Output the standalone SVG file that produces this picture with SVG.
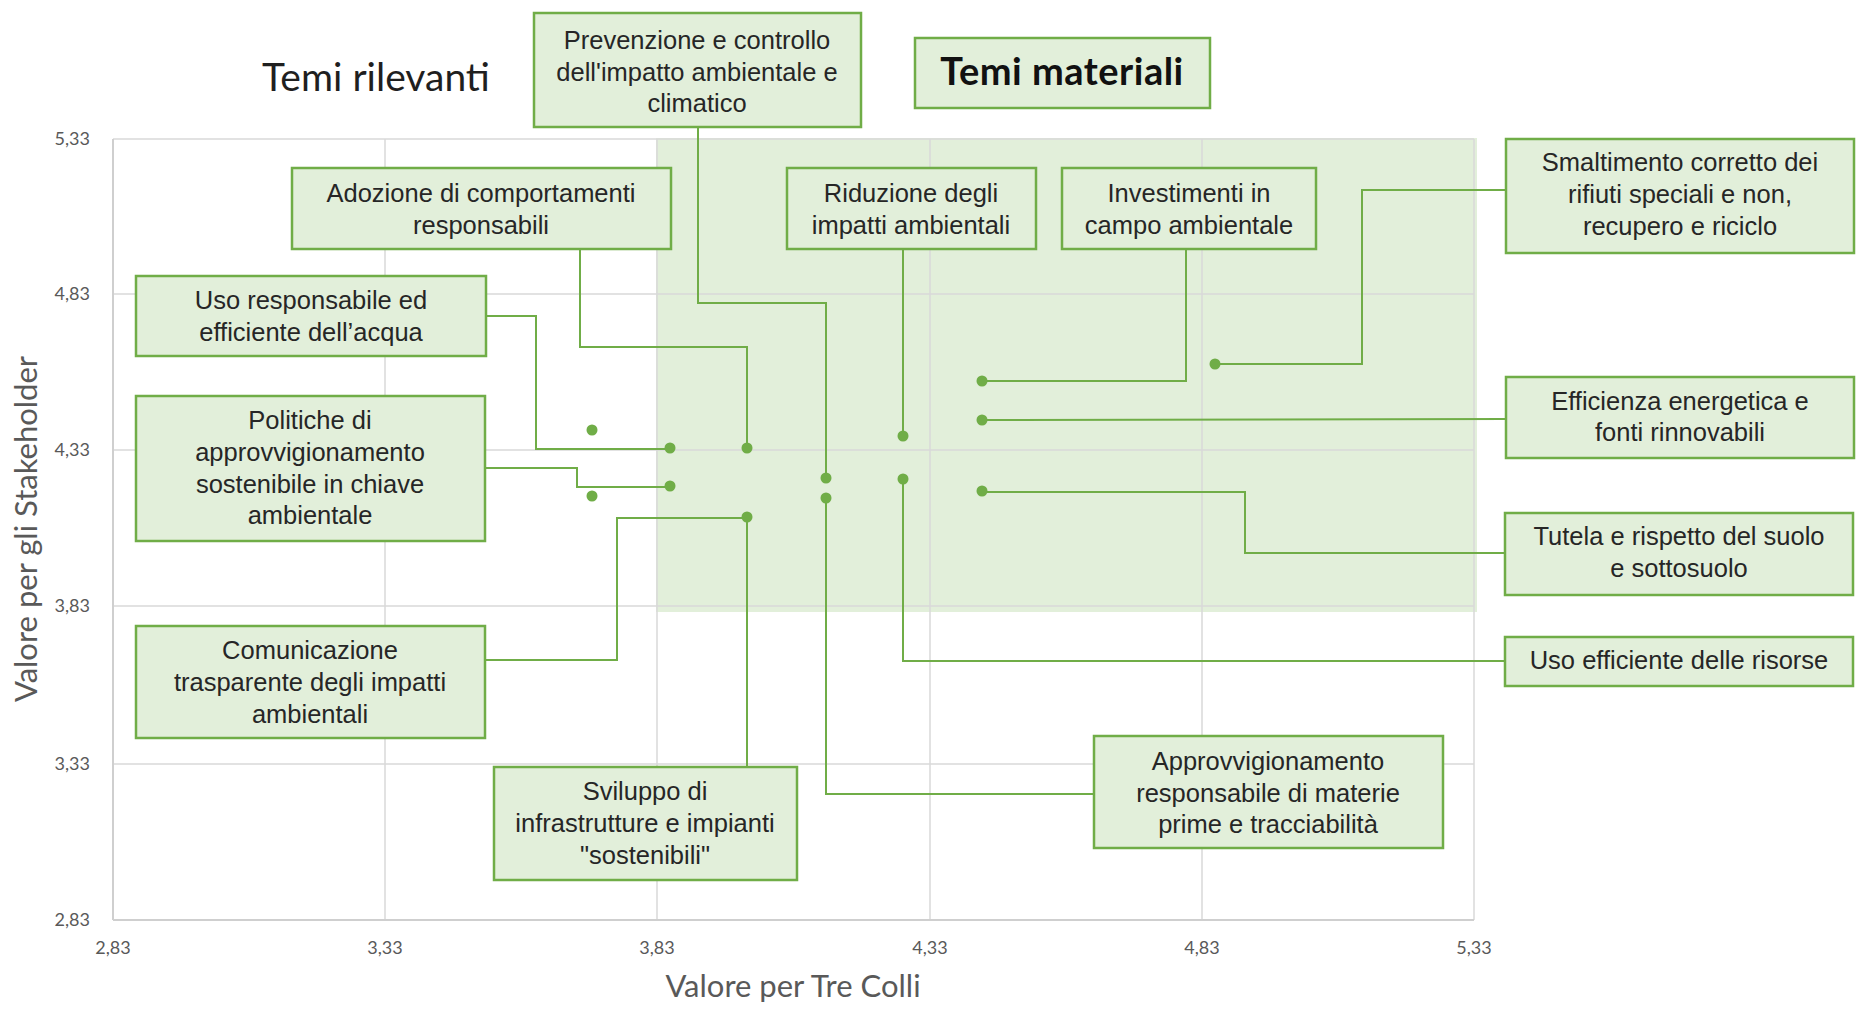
<svg xmlns="http://www.w3.org/2000/svg" width="1859" height="1011" viewBox="0 0 1859 1011">
<defs>
<style>
.grid{stroke:#d9d9d9;stroke-width:1.5;fill:none}
.axis{stroke:#cfcfcf;stroke-width:2;fill:none}
.tick{font-family:"Lato","Liberation Sans",sans-serif;font-size:18px;fill:#595959}
.tx{text-anchor:middle}
.ty{text-anchor:end}
.atitle{font-family:"Lato","Open Sans",sans-serif;font-size:31px;fill:#595959;text-anchor:middle}
.box{fill:#e2efda;stroke:#70ad47;stroke-width:2.5}
.lbl{font-family:"Liberation Sans",Arial,sans-serif;font-size:25.5px;fill:#262626;text-anchor:middle}
.conn{stroke:#70ad47;stroke-width:2;fill:none}
.dot{fill:#70ad47}
</style>
</defs>
<rect width="1859" height="1011" fill="#ffffff"/>

<g id="material-zone">
<rect x="656" y="138" width="821" height="474" fill="#e2efda"/>
</g>

<g id="chart-grid">
<line class="grid" x1="113" y1="139" x2="1474" y2="139"/>
<line class="grid" x1="113" y1="294" x2="1474" y2="294"/>
<line class="grid" x1="113" y1="450" x2="1474" y2="450"/>
<line class="grid" x1="113" y1="606" x2="1474" y2="606"/>
<line class="grid" x1="113" y1="764" x2="1474" y2="764"/>
<line class="grid" x1="385" y1="139" x2="385" y2="920"/>
<line class="grid" x1="657" y1="139" x2="657" y2="920"/>
<line class="grid" x1="930" y1="139" x2="930" y2="920"/>
<line class="grid" x1="1202" y1="139" x2="1202" y2="920"/>
<line class="grid" x1="1474" y1="139" x2="1474" y2="920"/>
<line class="axis" x1="113" y1="139" x2="113" y2="920"/>
<line class="axis" x1="113" y1="920" x2="1474" y2="920"/>
</g>

<g id="ticks">
<text class="tick ty" x="90" y="145">5,33</text>
<text class="tick ty" x="90" y="300">4,83</text>
<text class="tick ty" x="90" y="456">4,33</text>
<text class="tick ty" x="90" y="612">3,83</text>
<text class="tick ty" x="90" y="770">3,33</text>
<text class="tick ty" x="90" y="926">2,83</text>
<text class="tick tx" x="113" y="954">2,83</text>
<text class="tick tx" x="385" y="954">3,33</text>
<text class="tick tx" x="657" y="954">3,83</text>
<text class="tick tx" x="930" y="954">4,33</text>
<text class="tick tx" x="1202" y="954">4,83</text>
<text class="tick tx" x="1474" y="954">5,33</text>
</g>

<g id="axis-titles">
<text class="atitle" x="793" y="997">Valore per Tre Colli</text>
<text class="atitle" transform="translate(37,529) rotate(-90)" x="0" y="0">Valore per gli Stakeholder</text>
</g>

<g id="title-rilevanti">
<text x="376" y="91" font-family="Lato, 'Open Sans', sans-serif" font-size="39" fill="#1f1f1f" text-anchor="middle">Temi rilevanti</text>
</g>
<g id="title-materiali">
<rect class="box" x="915" y="38" width="295" height="70"/>
<text x="1062" y="85" font-family="Lato, 'Open Sans', sans-serif" font-size="38" font-weight="bold" fill="#111111" text-anchor="middle" letter-spacing="0.5">Temi materiali</text>
</g>

<g id="connectors">
<polyline class="conn" points="486,316 536,316 536,449 670,449"/>
<polyline class="conn" points="580,249 580,347 747,347 747,449"/>
<polyline class="conn" points="698,127 698,303 826,303 826,478"/>
<polyline class="conn" points="903,249 903,436"/>
<polyline class="conn" points="1186,249 1186,381 982,381"/>
<polyline class="conn" points="1506,190 1362,190 1362,364 1215,364"/>
<polyline class="conn" points="1506,419 982,420"/>
<polyline class="conn" points="982,492 1245,492 1245,553 1505,553"/>
<polyline class="conn" points="903,479 903,661 1505,661"/>
<polyline class="conn" points="826,498 826,794 1094,794"/>
<polyline class="conn" points="485,468 577,468 577,487 670,487"/>
<polyline class="conn" points="485,660 617,660 617,518 747,518"/>
<polyline class="conn" points="747,767 747,517"/>
</g>

<g id="points">
<circle class="dot" cx="592" cy="430" r="5.5"/>
<circle class="dot" cx="592" cy="496" r="5.5"/>
<circle class="dot" cx="670" cy="448" r="5.5"/>
<circle class="dot" cx="670" cy="486" r="5.5"/>
<circle class="dot" cx="747" cy="448" r="5.5"/>
<circle class="dot" cx="747" cy="517" r="5.5"/>
<circle class="dot" cx="826" cy="478" r="5.5"/>
<circle class="dot" cx="826" cy="498" r="5.5"/>
<circle class="dot" cx="903" cy="436" r="5.5"/>
<circle class="dot" cx="903" cy="479" r="5.5"/>
<circle class="dot" cx="982" cy="381" r="5.5"/>
<circle class="dot" cx="982" cy="420" r="5.5"/>
<circle class="dot" cx="982" cy="491" r="5.5"/>
<circle class="dot" cx="1215" cy="364" r="5.5"/>
</g>

<g id="n-prevenzione">
<rect class="box" x="534" y="13" width="327" height="114"/>
<text class="lbl" x="697" y="49">Prevenzione e controllo</text>
<text class="lbl" x="697" y="81">dell'impatto ambientale e</text>
<text class="lbl" x="697" y="112">climatico</text>
</g>
<g id="n-adozione">
<rect class="box" x="292" y="168" width="379" height="81"/>
<text class="lbl" x="481" y="202">Adozione di comportamenti</text>
<text class="lbl" x="481" y="234">responsabili</text>
</g>
<g id="n-uso-acqua">
<rect class="box" x="136" y="276" width="350" height="80"/>
<text class="lbl" x="311" y="309">Uso responsabile ed</text>
<text class="lbl" x="311" y="341">efficiente dell’acqua</text>
</g>
<g id="n-politiche">
<rect class="box" x="136" y="396" width="349" height="145"/>
<text class="lbl" x="310" y="429">Politiche di</text>
<text class="lbl" x="310" y="461">approvvigionamento</text>
<text class="lbl" x="310" y="493">sostenibile in chiave</text>
<text class="lbl" x="310" y="524">ambientale</text>
</g>
<g id="n-comunicazione">
<rect class="box" x="136" y="626" width="349" height="112"/>
<text class="lbl" x="310" y="659">Comunicazione</text>
<text class="lbl" x="310" y="691">trasparente degli impatti</text>
<text class="lbl" x="310" y="723">ambientali</text>
</g>
<g id="n-sviluppo">
<rect class="box" x="494" y="767" width="303" height="113"/>
<text class="lbl" x="645" y="800">Sviluppo di</text>
<text class="lbl" x="645" y="832">infrastrutture e impianti</text>
<text class="lbl" x="645" y="864">"sostenibili"</text>
</g>
<g id="n-riduzione">
<rect class="box" x="787" y="168" width="249" height="81"/>
<text class="lbl" x="911" y="202">Riduzione degli</text>
<text class="lbl" x="911" y="234">impatti ambientali</text>
</g>
<g id="n-investimenti">
<rect class="box" x="1062" y="168" width="254" height="81"/>
<text class="lbl" x="1189" y="202">Investimenti in</text>
<text class="lbl" x="1189" y="234">campo ambientale</text>
</g>
<g id="n-smaltimento">
<rect class="box" x="1506" y="139" width="348" height="114"/>
<text class="lbl" x="1680" y="171">Smaltimento corretto dei</text>
<text class="lbl" x="1680" y="203">rifiuti speciali e non,</text>
<text class="lbl" x="1680" y="235">recupero e riciclo</text>
</g>
<g id="n-efficienza">
<rect class="box" x="1506" y="377" width="348" height="81"/>
<text class="lbl" x="1680" y="410">Efficienza energetica e</text>
<text class="lbl" x="1680" y="441">fonti rinnovabili</text>
</g>
<g id="n-tutela">
<rect class="box" x="1505" y="513" width="348" height="82"/>
<text class="lbl" x="1679" y="545">Tutela e rispetto del suolo</text>
<text class="lbl" x="1679" y="577">e sottosuolo</text>
</g>
<g id="n-uso-risorse">
<rect class="box" x="1505" y="637" width="348" height="49"/>
<text class="lbl" x="1679" y="669">Uso efficiente delle risorse</text>
</g>
<g id="n-approvvigionamento">
<rect class="box" x="1094" y="736" width="349" height="112"/>
<text class="lbl" x="1268" y="770">Approvvigionamento</text>
<text class="lbl" x="1268" y="802">responsabile di materie</text>
<text class="lbl" x="1268" y="833">prime e tracciabilità</text>
</g>
</svg>
